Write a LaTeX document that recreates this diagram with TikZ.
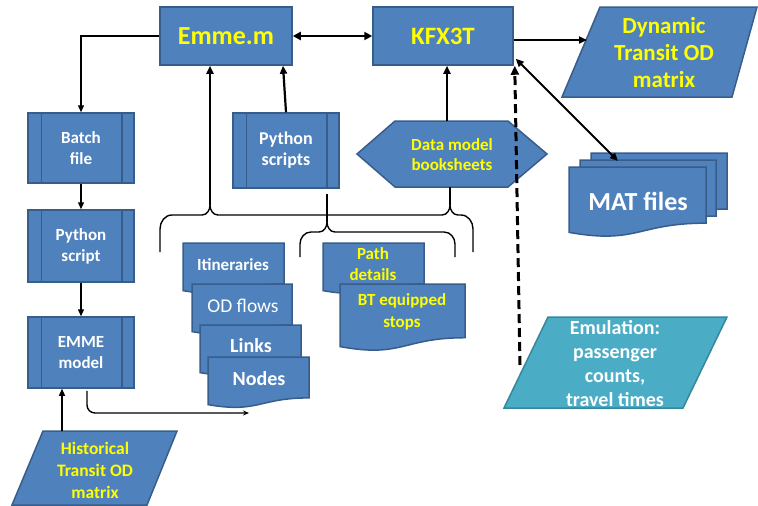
\documentclass[tikz,border=0pt]{standalone}
\usepackage{fontspec}
\setmainfont{Carlito}
\usetikzlibrary{arrows.meta,calc}
\definecolor{boxfill}{HTML}{4F81BD}
\definecolor{boxline}{HTML}{385D8A}
\definecolor{emufill}{HTML}{4BACC6}
\definecolor{emuline}{HTML}{35879C}
\definecolor{txtyellow}{HTML}{FFFF00}
\newcommand\fs[2]{\fontsize{#1}{#2}\selectfont}
\newcommand\docshape[4]{\draw[shapeline] (#1,#2) -- (#1+#3,#2) -- (#1+#3,#2+0.802*#4) .. controls (#1+0.5*#3,#2+0.802*#4) and (#1+0.5*#3,#2+1.107*#4) .. (#1,#2+0.934*#4) -- cycle;}
\newcommand\predef[1]{\draw[draw=boxline, line width=1.5pt] ([xshift=14pt]#1.north west) -- ([xshift=14pt]#1.south west) ([xshift=-13pt]#1.north east) -- ([xshift=-13pt]#1.south east);}
\tikzset{
  shapeline/.style={draw=boxline, fill=boxfill, line width=1.5pt},
  box/.style={shapeline, inner sep=0pt, align=center},
  lbl/.style={inner sep=0pt, align=center, font=\bfseries},
  arr/.style={-{Triangle[length=7pt,width=6pt]}, line width=1.3pt},
  arrT/.style={-{Triangle[length=8pt,width=7pt]}, line width=2.2pt},
  brace/.style={line width=1.4pt},
}
\begin{document}
\begin{tikzpicture}[x=1pt,y=-1pt]
\useasboundingbox (0,0) rectangle (758,506);

% top boxes
\node[box, minimum width=132pt, minimum height=58pt, text=txtyellow, font=\bfseries\fs{26}{30}] (emme) at (226,36) {Emme.m};
\node[box, minimum width=140pt, minimum height=58pt, text=txtyellow, font=\bfseries\fs{25}{30}] (kfx) at (443,36) {KFX3T};

% Dynamic transit OD matrix
\draw[shapeline] (600,7) -- (757,7) -- (732,97) -- (562,97) -- cycle;
\node[lbl, text=txtyellow, font=\bfseries\fs{23}{27}] (dyn) at (664,53) {Dynamic\\Transit OD\\matrix};
\coordinate (dynL) at (587,40);

% left column
\node[box, minimum width=106pt, minimum height=70pt, text=white, font=\bfseries\fs{17}{21}] (batch) at (81,148) {Batch\\file};
\node[box, minimum width=106pt, minimum height=72pt, text=white, font=\bfseries\fs{17}{21}] (pys) at (81,246) {Python\\script};
\node[box, minimum width=106pt, minimum height=71pt, text=white, font=\bfseries\fs{17}{21}] (emmod) at (81,352.5) {EMME\\model};
\predef{batch}\predef{pys}\predef{emmod}

% Python scripts
\node[box, minimum width=106pt, minimum height=75pt, text=white, font=\bfseries\fs{18}{21}] (pyss) at (286,150.5) {Python\\scripts};
\predef{pyss}

% Data model hexagon
\draw[shapeline] (357,154) -- (395,121) -- (508,121) -- (547,154) -- (508,187) -- (395,187) -- cycle;
\node[lbl, text=txtyellow, font=\bfseries\fs{17}{20}] (dm) at (452,155) {Data model\\booksheets};
\coordinate (dmtop) at (447,121);
\coordinate (dmbot) at (450,187);

% MAT files
\docshape{591}{153}{136}{70}
\docshape{580}{160}{136}{70}
\docshape{569}{167}{137}{70}
\node[lbl, text=white, font=\bfseries\fs{26}{30}] (mat) at (638,201) {MAT files};
\coordinate (matT) at (618,161);

% document stack left
\docshape{183}{243}{101}{51}
\node[lbl, text=white, font=\bfseries\fs{17}{20}] (itin) at (233,265) {Itineraries};
\docshape{192}{284}{100}{51}
\node[lbl, text=white, font=\fs{19.5}{22}] (odf) at (243,306) {OD flows};
\docshape{200}{325}{101}{51}
\node[lbl, text=white, font=\bfseries\fs{20}{24}] (links) at (251,346) {Links};
\docshape{208}{357}{101}{51}
\node[lbl, text=white, font=\bfseries\fs{20}{24}] (nodes) at (259,379) {Nodes};

% document stack right
\docshape{323}{243}{101}{51}
\node[lbl, text=txtyellow, font=\bfseries\fs{17}{21}] (path) at (373,264.5) {Path\\details};
\docshape{340}{284}{125}{67}
\node[lbl, text=txtyellow, font=\bfseries\fs{17}{22}] (bt) at (402,312) {BT equipped\\stops};

% Emulation
\draw[draw=emuline, fill=emufill, line width=1.5pt] (548,317) -- (727,317) -- (683,408) -- (504,408) -- cycle;
\node[lbl, text=white, font=\bfseries\fs{20}{24}] (emu) at (615,364) {Emulation:\\passenger\\counts,\\travel times};
\coordinate (emuT) at (520,365);

% Historical
\draw[shapeline] (43,431) -- (177,431) -- (147,505) -- (12,505) -- cycle;
\node[lbl, text=txtyellow, font=\bfseries\fs{17.5}{22}] (hist) at (95,470) {Historical\\Transit OD\\matrix};
\coordinate (histT) at (62,431);

% braces
\coordinate (cuspA) at (210,205);
\coordinate (cuspB) at (327,222);
\draw[brace] (160,252) -- (160,229) to[out=90,in=180] (172,215) -- (202,215) to[out=0,in=-90] (cuspA) to[out=-90,in=180] (218,215) -- (442,215) to[out=0,in=-90] (450,205) to[out=-90,in=180] (458,215) -- (461,215) to[out=0,in=90] (473,229) -- (473,252);
\draw[brace] (450,205) -- (dmbot);
\draw[brace] (300,257) -- (300,244) to[out=90,in=180] (311,232) -- (319,232) to[out=0,in=-90] (cuspB) to[out=-90,in=180] (335,232) -- (444,232) to[out=0,in=90] (455,244) -- (455,257);
\draw[brace] (cuspB) -- (327,194);

% connectors
\draw[{Triangle[length=8pt,width=8pt]}-{Triangle[length=8pt,width=8pt]}, line width=2.2pt] (emme.east) -- (kfx.west);
\draw[arr] (emme.west) -| (batch.north);
\draw[arr] (batch.south) -- (pys.north);
\draw[arr] (pys.south) -- (emmod.north);
\draw[arrT] (pyss.north) -- ($(emme.south)+(57,0)$);
\draw[arrT] (cuspA) -- ($(emme.south)+(-16,0)$);
\draw[arrT] (dmtop) -- (kfx.south -| dmtop);
\draw[arrT] ($(kfx.east)+(0,4)$) -- (dynL);
\draw[{Triangle[length=8pt,width=7pt]}-{Triangle[length=8pt,width=7pt]}, line width=1.8pt] ($(kfx.south east)+(2,-7)$) -- (matT);
\draw[-{Triangle[length=9pt,width=8pt]}, line width=3pt, dash pattern=on 9pt off 5pt] (emuT) -- ($(kfx.south east)+(1,0)$);
\draw[arr] (histT) -- ($(emmod.south)+(-19,0)$);
\draw[-{Stealth[length=6pt,width=5pt]}, line width=1.4pt, rounded corners=8pt] ($(emmod.south)+(6,2)$) -- (87,413) -- (249,413);
\end{tikzpicture}
\end{document}
